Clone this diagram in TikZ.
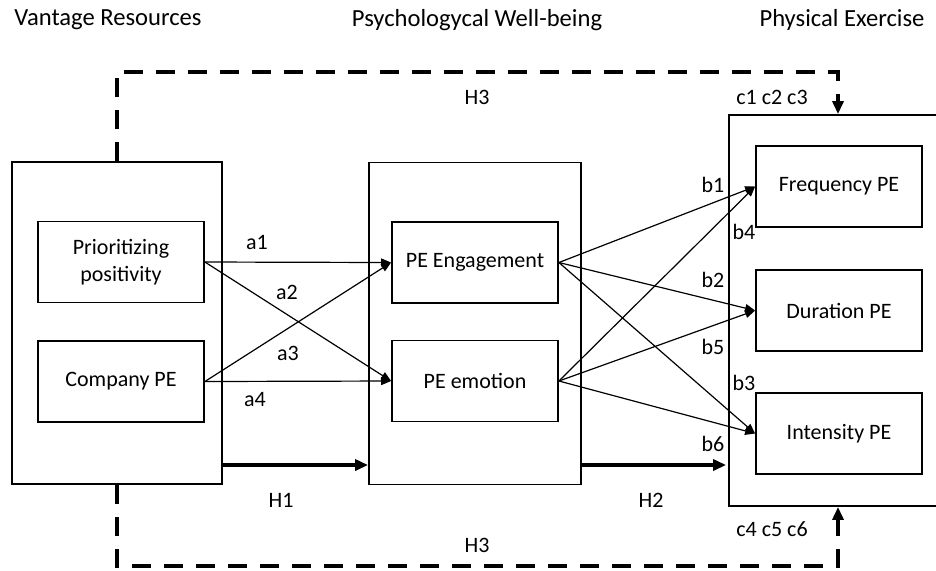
\documentclass[tikz,border=0pt]{standalone}
\usepackage{fontspec}
\setmainfont{Carlito}
\usetikzlibrary{arrows.meta, positioning}

\begin{document}
\begin{tikzpicture}[x=0.5pt, y=-0.5pt,
    outerbox/.style={draw, line width=0.9pt, minimum width=105pt, minimum height=161pt, inner sep=0pt},
    varbox/.style={draw, line width=0.9pt, minimum width=83pt, minimum height=40.5pt, inner sep=0pt,
        align=center, font=\fontsize{11}{13.5}\selectfont},
    link/.style={-{Triangle[length=5pt,width=4pt]}, line width=0.6pt},
    hyp/.style={-{Triangle[length=6.5pt,width=5.5pt]}, line width=2pt},
    hypdash/.style={hyp, dash pattern=on 9.5pt off 6.5pt},
    lbl/.style={font=\fontsize{11}{13}\selectfont, inner sep=0pt},
    heading/.style={font=\fontsize{12.3}{14}\selectfont, inner sep=0pt}]
    \useasboundingbox (0,0) rectangle (936,570);

    % headings
    \node[heading] (hvant) at (108,20) {Vantage Resources};
    \node[heading] (hpsy) at (477,20) {Psychologycal Well-being};
    \node[heading] (hphys) at (842,20) {Physical Exercise};

    % outer blocks
    \node[outerbox] (vant) at (117,323) {};
    \node[outerbox, minimum width=106pt] (psy) at (475,323.5) {};
    \node[outerbox, minimum width=105.5pt, minimum height=195.5pt] (phys) at (834.5,310.5) {};

    % variables
    \node[varbox] (prio) at (121,262) {Prioritizing\\positivity};
    \node[varbox] (comp) at (121,381.5) {Company PE};
    \node[varbox] (eng) at (475,262.5) {PE Engagement};
    \node[varbox] (emo) at (475,381) {PE emotion};
    \node[varbox] (freq) at (839,186.5) {Frequency PE};
    \node[varbox] (dur) at (839,310.5) {Duration PE};
    \node[varbox] (inten) at (839,433.5) {Intensity PE};

    % a paths
    \foreach \s in {prio,comp}
        \foreach \t in {eng,emo}
            \draw[link] (\s.east) -- (\t.west);
    % b paths
    \foreach \s in {eng,emo}
        \foreach \t in {freq,dur,inten}
            \draw[link] (\s.east) -- (\t.west);

    % hypotheses
    \coordinate (hy) at (0,465);
    \draw[hyp] (vant.east |- hy) -- (psy.west |- hy);
    \draw[hyp] (psy.east |- hy) -- ([xshift=-1pt]phys.west |- hy);
    \coordinate (htop) at (838,72);
    \coordinate (hbot) at (838,566);
    \draw[hypdash] (vant.north) |- (htop) -- (htop |- phys.north);
    \draw[hypdash] (vant.south) |- (hbot) -- (hbot |- phys.south);

    % labels
    \node[lbl] (la1) at (257,242) {a1};
    \node[lbl] (la2) at (287,292) {a2};
    \node[lbl] (la3) at (288,353) {a3};
    \node[lbl] (la4) at (255,400) {a4};
    \node[lbl] (lb1) at (713,185) {b1};
    \node[lbl] (lb4) at (744,232) {b4};
    \node[lbl] (lb2) at (713,280) {b2};
    \node[lbl] (lb5) at (713,347) {b5};
    \node[lbl] (lb3) at (744,383) {b3};
    \node[lbl] (lb6) at (713,444) {b6};
    \node[lbl] (lh1) at (281,500) {H1};
    \node[lbl] (lh2) at (651,500) {H2};
    \node[lbl] (lh3a) at (477,97) {H3};
    \node[lbl] (lh3b) at (477,545) {H3};
    \node[lbl] (lc1) at (772,97) {c1 c2 c3};
    \node[lbl] (lc4) at (772,529) {c4 c5 c6};
\end{tikzpicture}
\end{document}
